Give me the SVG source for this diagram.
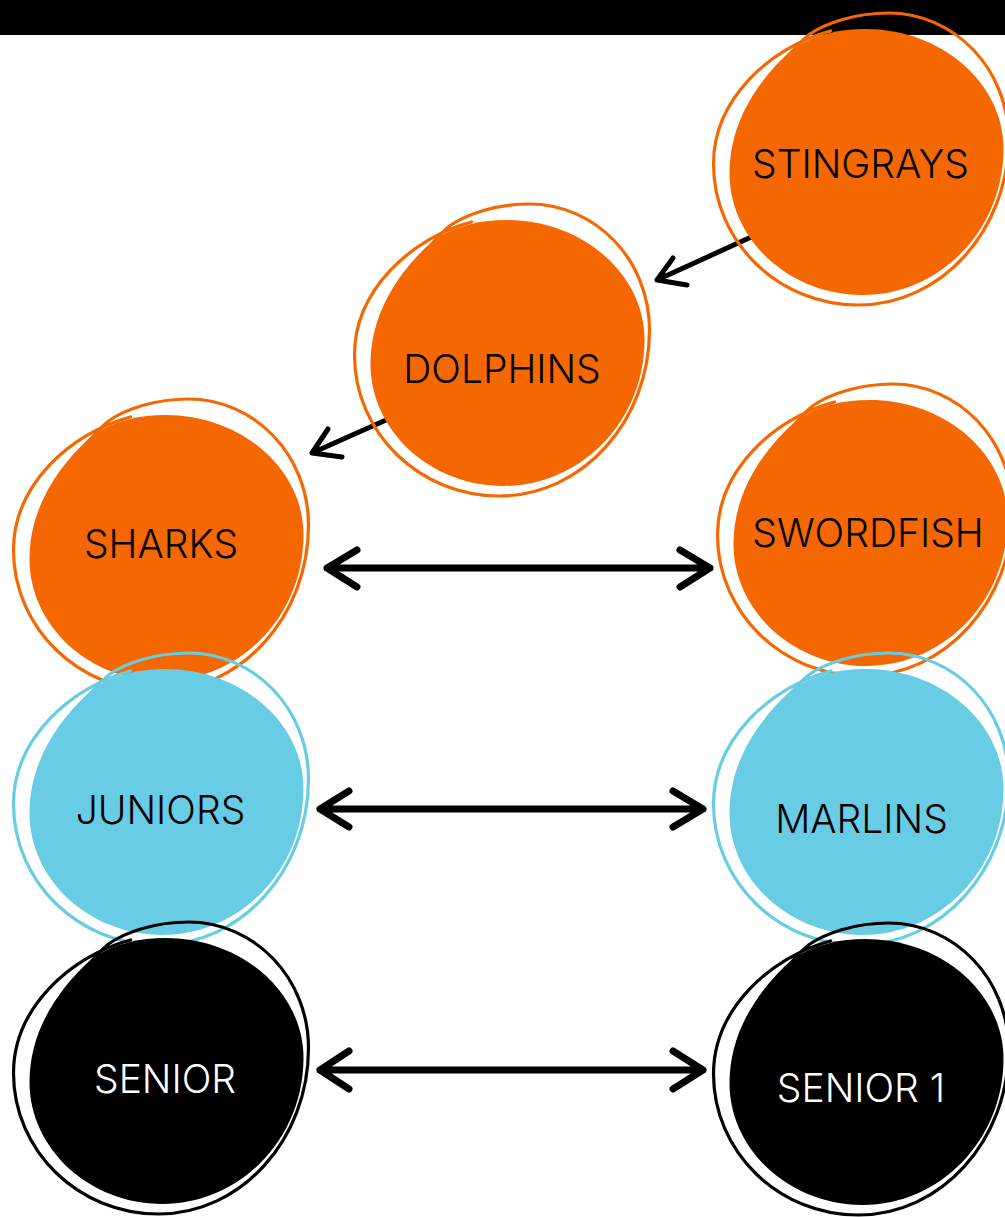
<svg xmlns="http://www.w3.org/2000/svg" xmlns:xlink="http://www.w3.org/1999/xlink" width="1005" height="1217" viewBox="0 0 1005 1217">
  <style>
    .lbl { font-family: Inter, "Liberation Sans", sans-serif; font-size: 39px; font-weight: 300; text-anchor: middle; }
    .dark { fill: #000000; }
    .light { fill: #ffffff; }
    .f-orange { fill: #F56700; }
    .s-orange { fill: none; stroke: #F56700; stroke-width: 3.2; stroke-linecap: round; }
    .f-blue { fill: #68CCE5; }
    .s-blue { fill: none; stroke: #68CCE5; stroke-width: 3.2; stroke-linecap: round; }
    .f-black { fill: #000000; }
    .s-black { fill: none; stroke: #000000; stroke-width: 3.2; stroke-linecap: round; }
    .conn { fill: none; stroke: #000000; stroke-linecap: round; stroke-linejoin: round; }
    .thick { stroke-width: 7; }
    .thin { stroke-width: 5; }
  </style>
  <defs>
    <path id="blob" d="M -68,-110 C -45,-125 -20,-130 5,-130 C 81,-130 143,-76 143,-10 C 143,70 80,136 2,136 C -71,136 -131,81 -131,14 C -131,-30 -110,-72 -68,-110 Z"/>
    <path id="ring" d="M -30,-128 C -90,-112 -147,-60 -147,5 C -147,83 -82,146 -2,146 C 81,146 148,71 148,-20 C 148,-90 94,-146 28,-146 C -5,-146 -35,-136 -52,-124 C -58,-119 -63,-114 -68,-108"/>
  </defs>

  <rect x="0" y="0" width="1005" height="35" fill="#000000"/>

  <g id="connectors">
    <path class="conn thin" d="M760,233 L657,280 M673,258 L657,280 L687,285"/>
    <path class="conn thin" d="M395,416 L312,453 M328,429 L312,453 L342,457"/>
    <path class="conn thick" d="M327,568 H710 M357,550 L327,568 L357,587 M680,550 L710,568 L680,587"/>
    <path class="conn thick" d="M320,809 H703 M349,791 L320,809 L349,827 M673,791 L703,809 L673,827"/>
    <path class="conn thick" d="M320,1070 H703 M349,1051 L320,1070 L349,1089 M673,1051 L703,1070 L673,1089"/>
  </g>

  <g id="node-stingrays" transform="translate(860.5,159)">
    <use xlink:href="#blob" class="f-orange"/>
    <use xlink:href="#ring" class="s-orange"/>
    <text class="lbl dark" x="0" y="19">STINGRAYS</text>
  </g>
  <g id="node-dolphins" transform="translate(501.5,350)">
    <use xlink:href="#blob" class="f-orange"/>
    <use xlink:href="#ring" class="s-orange"/>
    <text class="lbl dark" x="0.5" y="33">DOLPHINS</text>
  </g>
  <g id="node-sharks" transform="translate(160.5,545)">
    <use xlink:href="#blob" class="f-orange"/>
    <use xlink:href="#ring" class="s-orange"/>
    <text class="lbl dark" x="0.5" y="13">SHARKS</text>
  </g>
  <g id="node-swordfish" transform="translate(864.5,530)">
    <use xlink:href="#blob" class="f-orange"/>
    <use xlink:href="#ring" class="s-orange"/>
    <text class="lbl dark" x="3.5" y="17">SWORDFISH</text>
  </g>
  <g id="node-juniors" transform="translate(160.5,799)">
    <use xlink:href="#blob" class="f-blue"/>
    <use xlink:href="#ring" class="s-blue"/>
    <text class="lbl dark" x="0" y="25">JUNIORS</text>
  </g>
  <g id="node-marlins" transform="translate(860.5,799)">
    <use xlink:href="#blob" class="f-blue"/>
    <use xlink:href="#ring" class="s-blue"/>
    <text class="lbl dark" x="1" y="34">MARLINS</text>
  </g>
  <g id="node-senior" transform="translate(160.5,1068)">
    <use xlink:href="#blob" class="f-black"/>
    <use xlink:href="#ring" class="s-black"/>
    <text class="lbl light" x="4.5" y="25">SENIOR</text>
  </g>
  <g id="node-senior1" transform="translate(860.5,1069)">
    <use xlink:href="#blob" class="f-black"/>
    <use xlink:href="#ring" class="s-black"/>
    <text class="lbl light" x="0.5" y="33">SENIOR 1</text>
  </g>
</svg>
